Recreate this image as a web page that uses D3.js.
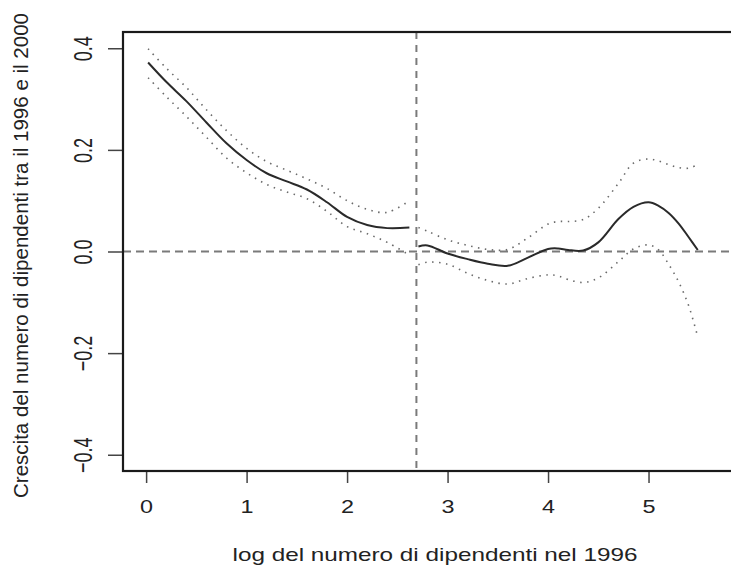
<!DOCTYPE html>
<html>
<head>
<meta charset="utf-8">
<script src="https://cdn.jsdelivr.net/npm/d3@7"></script>
<style>
  body { margin: 0; background: #fff; }
  svg { display: block; font-family: "Liberation Sans", Arial, Helvetica, sans-serif; }
</style>
</head>
<body>
<div id="chart"></div>
<script>
// dimensioni della pagina
const width = 731;
const height = 568;

// dati: tratto sinistro (prima della soglia)
const xLeft     = [0.02, 0.2, 0.4, 0.6, 0.8, 1.0, 1.2, 1.4, 1.6, 1.8, 2.0, 2.2, 2.4, 2.62];
const fitLeft   = [0.372, 0.334, 0.296, 0.254, 0.213, 0.180, 0.154, 0.138, 0.122, 0.097, 0.068, 0.052, 0.046, 0.047];
const upperLeft = [0.399, 0.361, 0.323, 0.279, 0.238, 0.203, 0.177, 0.160, 0.143, 0.124, 0.100, 0.083, 0.077, 0.100];
const lowerLeft = [0.342, 0.305, 0.266, 0.225, 0.184, 0.155, 0.132, 0.117, 0.104, 0.079, 0.049, 0.035, 0.018, -0.007];

// tratto destro (dopo la soglia)
const xRight     = [2.71, 2.8, 3.0, 3.2, 3.4, 3.6, 3.8, 4.0, 4.1, 4.2, 4.35, 4.5, 4.7, 4.85, 5.0, 5.1, 5.2, 5.3, 5.4, 5.49];
const fitRight   = [0.010, 0.012, -0.004, -0.015, -0.024, -0.028, -0.012, 0.005, 0.006, 0.003, 0.002, 0.018, 0.064, 0.088, 0.097, 0.090, 0.076, 0.055, 0.028, 0.003];
const upperRight = [0.047, 0.040, 0.023, 0.012, 0.004, 0.004, 0.027, 0.054, 0.059, 0.059, 0.063, 0.085, 0.134, 0.174, 0.182, 0.178, 0.171, 0.165, 0.164, 0.171];
const lowerRight = [-0.026, -0.021, -0.025, -0.043, -0.057, -0.064, -0.053, -0.046, -0.048, -0.055, -0.061, -0.052, -0.020, 0.005, 0.013, 0.003, -0.025, -0.060, -0.107, -0.168];

// soglia verticale e tacche
const threshold = 2.69;
const xTicks = [0, 1, 2, 3, 4, 5];
const yTicks = [-0.4, -0.2, 0.0, 0.2, 0.4];

const xLabel = "log del numero di dipendenti nel 1996";
const yLabel = "Crescita del numero di dipendenti tra il 1996 e il 2000";

// area del grafico
const plotLeft = 123, plotTop = 32, plotBottom = 471, plotRight = 747;

const svg = d3.select("#chart")
    .append("svg")
    .attr("width", width)
    .attr("height", height);

const x = d3.scaleLinear().domain([-0.23, 5.98]).range([plotLeft, plotRight]);
const y = d3.scaleLinear().domain([-0.432, 0.432]).range([plotBottom, plotTop]);

// linee di riferimento tratteggiate
svg.append("line")
    .attr("x1", plotLeft).attr("x2", plotRight)
    .attr("y1", y(0)).attr("y2", y(0))
    .attr("stroke", "#7a7a7a").attr("stroke-width", 2)
    .attr("stroke-dasharray", "8,5");

svg.append("line")
    .attr("x1", x(threshold)).attr("x2", x(threshold))
    .attr("y1", plotTop).attr("y2", plotBottom)
    .attr("stroke", "#7a7a7a").attr("stroke-width", 2)
    .attr("stroke-dasharray", "7,6");

// generatore di linee
const line = d3.line()
    .x(d => x(d[0]))
    .y(d => y(d[1]))
    .curve(d3.curveCatmullRom);

function draw(xs, ys, dotted) {
    svg.append("path")
        .datum(xs.map((v, i) => [v, ys[i]]))
        .attr("d", line)
        .attr("fill", "none")
        .attr("stroke", dotted ? "#6a6a6a" : "#2a2a2a")
        .attr("stroke-width", dotted ? 1.6 : 2)
        .attr("stroke-dasharray", dotted ? "1.5,5.5" : null);
}

draw(xLeft, upperLeft, true);
draw(xLeft, lowerLeft, true);
draw(xLeft, fitLeft, false);
draw(xRight, upperRight, true);
draw(xRight, lowerRight, true);
draw(xRight, fitRight, false);

// assi
const gx = svg.append("g")
    .attr("transform", `translate(0,${plotBottom})`)
    .call(d3.axisBottom(x).tickValues(xTicks).tickSize(12).tickFormat(d3.format("d")));

const gy = svg.append("g")
    .attr("transform", `translate(${plotLeft},0)`)
    .call(d3.axisLeft(y).tickValues(yTicks).tickSize(15).tickFormat(d3.format(".1f")));

[gx, gy].forEach(g => {
    g.select(".domain").remove();
    g.selectAll(".tick line").attr("stroke", "#444").attr("stroke-width", 1.5);
    g.selectAll(".tick text").attr("fill", "#222").style("font-size", "18px");
});

gx.selectAll(".tick text")
    .attr("y", 42)
    .attr("dy", null)
    .attr("transform", "scale(1.3,1)");

gy.selectAll(".tick text")
    .attr("x", null)
    .attr("dy", null)
    .attr("text-anchor", "middle")
    .attr("transform", "translate(-31,0) scale(1.45,1) rotate(-90)");

// riquadro
svg.append("rect")
    .attr("x", plotLeft).attr("y", plotTop)
    .attr("width", plotRight - plotLeft).attr("height", plotBottom - plotTop)
    .attr("fill", "none")
    .attr("stroke", "#1a1a1a")
    .attr("stroke-width", 2.2);

// titoli degli assi
svg.append("text")
    .attr("x", (plotLeft + plotRight) / 2)
    .attr("y", 561)
    .attr("text-anchor", "middle")
    .attr("textLength", 405)
    .attr("lengthAdjust", "spacingAndGlyphs")
    .style("font-size", "18.5px")
    .attr("fill", "#222")
    .text(xLabel);

svg.append("text")
    .attr("transform", `translate(28,${(plotTop + plotBottom) / 2 + 4}) rotate(-90)`)
    .attr("text-anchor", "middle")
    .attr("textLength", 485)
    .attr("lengthAdjust", "spacingAndGlyphs")
    .style("font-size", "20px")
    .attr("fill", "#222")
    .text(yLabel);
</script>
</body>
</html>
